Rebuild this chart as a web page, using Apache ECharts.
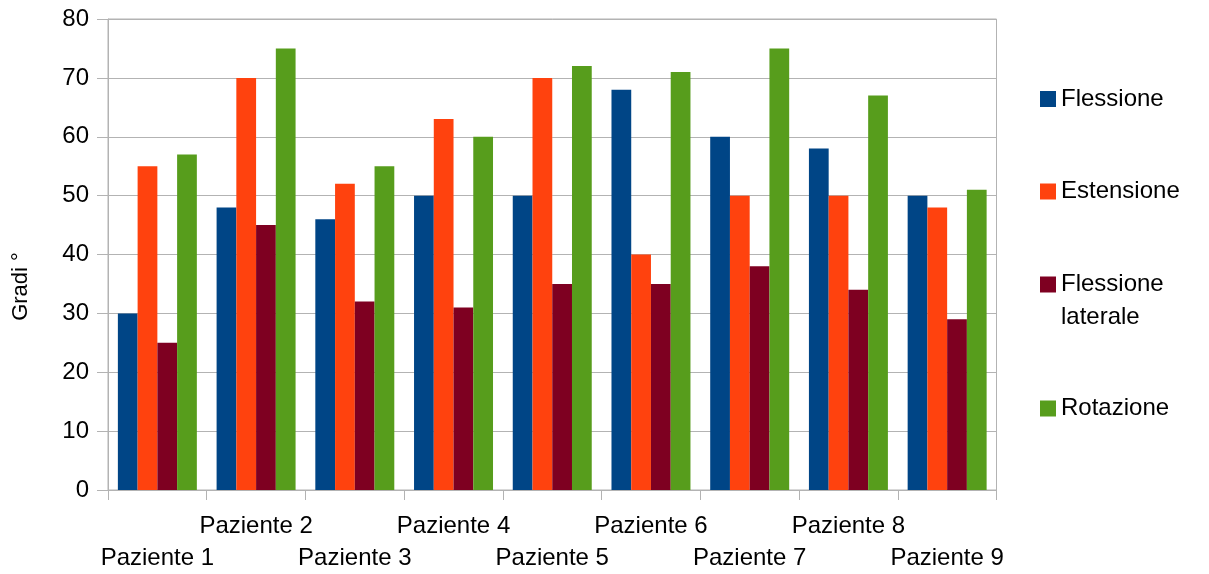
<!DOCTYPE html>
<html>
<head>
<meta charset="utf-8">
<script src="https://cdn.jsdelivr.net/npm/echarts@6/dist/echarts.min.js"></script>
<style>
  html, body { margin: 0; padding: 0; background: #fff; }
  #chart { width: 1209px; height: 574px; }
</style>
</head>
<body>
<div id="chart"></div>
<script>
// dati
var pazienti = ["Paziente 1", "Paziente 2", "Paziente 3", "Paziente 4", "Paziente 5",
                "Paziente 6", "Paziente 7", "Paziente 8", "Paziente 9"];
var flessione = [30, 48, 46, 50, 50, 68, 60, 58, 50];
var estensione = [55, 70, 52, 63, 70, 40, 50, 50, 48];
var flessioneLaterale = [25, 45, 32, 31, 35, 35, 38, 34, 29];
var rotazione = [57, 75, 55, 60, 72, 71, 75, 67, 51];
var yTicks = [0, 10, 20, 30, 40, 50, 60, 70, 80];

var FONT = "Liberation Sans";
var GREY = "#b3b3b3";

var chart = echarts.init(document.getElementById("chart"));

// una legenda per voce, cosi' l'icona resta sulla prima riga
function legenda(nome, top) {
  return {
    orient: "vertical",
    left: 1040,
    top: top,
    padding: 0,
    itemWidth: 16,
    itemHeight: 16,
    icon: "rect",
    selectedMode: false,
    data: [nome],
    // voce su due righe: riga vuota sopra per tenere il quadratino sulla prima
    formatter: function (n) { return n.indexOf(" ") > 0 ? "\n" + n.replace(" ", "\n") : n; },
    textStyle: { fontFamily: FONT, fontSize: 24, color: "#000", lineHeight: 33 }
  };
}

chart.setOption({
  animation: false,
  color: ["#004586", "#ff420e", "#7e0021", "#579d1c"],
  textStyle: { fontFamily: FONT },
  legend: [
    legenda("Flessione", 82.5),
    legenda("Estensione", 175),
    legenda("Flessione laterale", 235),
    legenda("Rotazione", 392)
  ],
  grid: {
    left: 108, right: 212.5, top: 19, bottom: 84,
    show: true, borderColor: GREY, borderWidth: 1
  },
  xAxis: {
    type: "category",
    data: pazienti,
    axisLine: { lineStyle: { color: GREY } },
    axisTick: { show: true, interval: 0, length: 10, lineStyle: { color: GREY } },
    axisLabel: {
      interval: 0,
      margin: 20,
      fontFamily: FONT,
      fontSize: 24,
      lineHeight: 32,
      color: "#000",
      formatter: function (v, i) { return i % 2 === 0 ? "\n" + v : v; }
    }
  },
  yAxis: {
    type: "value",
    min: yTicks[0],
    max: yTicks[yTicks.length - 1],
    interval: yTicks[1] - yTicks[0],
    name: "Gradi °",
    nameLocation: "middle",
    nameRotate: 90,
    nameGap: 76,
    nameTextStyle: { fontFamily: FONT, fontSize: 22, color: "#000", padding: [0, 64, 0, 0] },
    axisLine: { show: true, lineStyle: { color: GREY } },
    axisTick: { show: true, length: 11, lineStyle: { color: GREY } },
    axisLabel: { margin: 19, fontFamily: FONT, fontSize: 24, color: "#000" },
    splitLine: { lineStyle: { color: GREY } }
  },
  series: [
    { name: "Flessione", type: "bar", data: flessione, barGap: "0%", barCategoryGap: "20%" },
    { name: "Estensione", type: "bar", data: estensione },
    { name: "Flessione laterale", type: "bar", data: flessioneLaterale },
    { name: "Rotazione", type: "bar", data: rotazione }
  ]
});
</script>
</body>
</html>
